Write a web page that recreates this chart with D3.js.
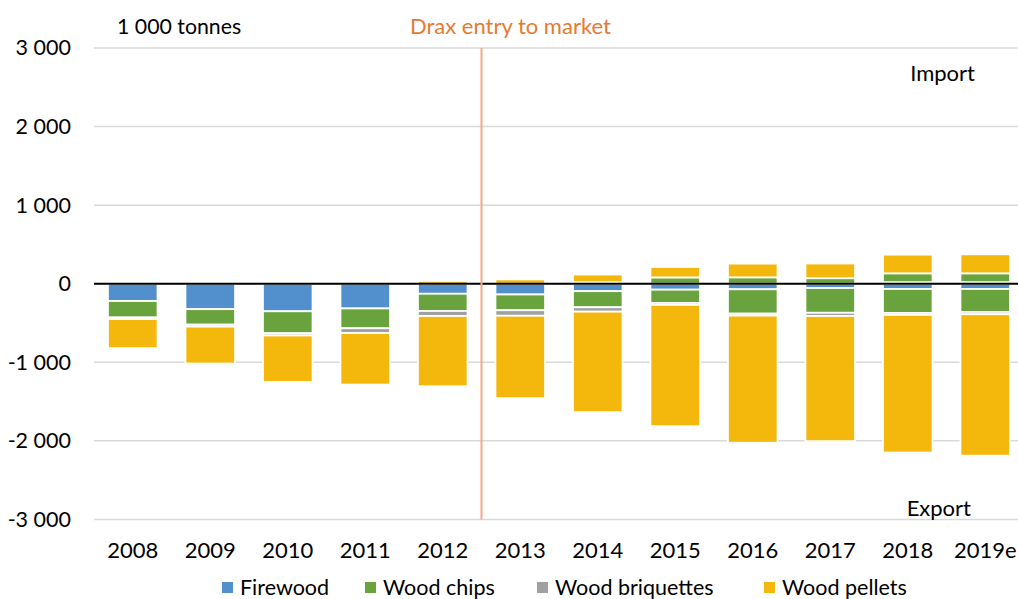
<!DOCTYPE html>
<html><head><meta charset="utf-8">
<script src="https://cdn.jsdelivr.net/npm/d3@7"></script>
<style>
html,body{margin:0;padding:0;background:#fff;overflow:hidden}
text{font-family:Lato,"Open Sans",sans-serif}
</style></head>
<body><svg id="c" width="1018" height="599"></svg>
<script>
const years = ["2008","2009","2010","2011","2012","2013","2014","2015","2016","2017","2018","2019e"];
const products = ["Firewood","Wood chips","Wood briquettes","Wood pellets"];
const colors = ["#5190CC","#68A33E","#A0A0A0","#F4B70C"];
// exports (negative), 1 000 tonnes
const firewoodExp = [-220,-324,-351,-315,-128,-137,-95,-76,-71,-55,-67,-67];
const chipsExp    = [-210,-197,-280,-252,-219,-201,-205,-169,-310,-315,-305,-292];
const briqExp     = [-20,-25,-28,-62,-64,-70,-56,-25,-25,-41,-25,-30];
const pelletsExp  = [-370,-470,-591,-655,-894,-1049,-1279,-1543,-1618,-1593,-1752,-1800];
// imports (positive)
const firewoodImp = [0,0,0,0,0,0,0,0,0,0,20,20];
const chipsImp    = [0,0,0,0,0,0,20,80,81,70,112,112];
const briqImp     = [0,0,0,0,0,0,0,0,0,0,0,0];
const pelletsImp  = [0,0,0,0,35,55,97,133,175,187,238,242];
const yTicks = [-3000,-2000,-1000,0,1000,2000,3000];

const svg = d3.select("#c");
const x = d3.scaleBand().domain(years).range([94,1024]).paddingInner(0.36).paddingOuter(0.18);
const y = d3.scaleLinear().domain([-3000,3000]).range([519.4,48]);
const loc = d3.formatLocale({decimal:",",thousands:" ",grouping:[3],currency:["",""],minus:"-"});
const fmt = loc.format(",d");

// gridlines
svg.append("g").selectAll("line").data(yTicks.filter(d=>d!==0)).join("line")
  .attr("x1",94).attr("x2",1018).attr("y1",d=>y(d)).attr("y2",d=>y(d))
  .attr("stroke","#D9D9D9").attr("stroke-width",1.5);

// y axis labels
const yAxis = d3.axisLeft(y).tickValues(yTicks).tickFormat(fmt).tickSize(0).tickPadding(23);
const gy = svg.append("g").attr("transform","translate(94,0)").call(yAxis);
gy.select(".domain").remove();
gy.selectAll("text").attr("font-size",21.5).attr("fill","#000").attr("font-family","Lato");

function rows(arrs){ return years.map((yr,i)=>{const r={year:yr}; products.forEach((p,k)=>r[p]=arrs[k][i]); return r;}); }
const exp = rows([firewoodExp,chipsExp,briqExp,pelletsExp]);
const imp = rows([firewoodImp,chipsImp,briqImp,pelletsImp]);
const stack = d3.stack().keys(products).offset(d3.stackOffsetDiverging);
const bars = svg.append("g");
[stack(exp), stack(imp)].forEach(series=>{
  series.forEach((s,k)=>{
    bars.append("g").attr("fill",colors[k]).selectAll("rect")
      .data(s.filter(d=>d[1]!==d[0])).join("rect")
      .attr("x",d=>x(d.data.year)).attr("width",x.bandwidth())
      .attr("y",d=>y(Math.max(d[0],d[1]))).attr("height",d=>Math.abs(y(d[0])-y(d[1])))
      .attr("stroke","#fff").attr("stroke-width",1.8);
  });
});

// zero line
svg.append("line").attr("x1",94).attr("x2",1018).attr("y1",y(0)).attr("y2",y(0))
  .attr("stroke","#000").attr("stroke-width",2);

// Drax line
const dx = (x("2012")+x.bandwidth()/2 + x("2013")+x.bandwidth()/2)/2;
svg.append("line").attr("x1",dx).attr("x2",dx).attr("y1",y(3000)).attr("y2",y(-3000))
  .attr("stroke","#F1A984").attr("stroke-width",2);

// x labels
svg.append("g").selectAll("text").data(years).join("text")
  .attr("x",d=>x(d)+x.bandwidth()/2).attr("y",558).attr("text-anchor","middle")
  .attr("font-size",22).attr("fill","#000").text(d=>d);

// annotations
svg.append("text").attr("x",117).attr("y",34).attr("font-size",21.3).attr("fill","#000").text("1 000 tonnes");
svg.append("text").attr("x",410).attr("y",34).attr("font-size",22).attr("fill","#E8792F").text("Drax entry to market");
svg.append("text").attr("x",975).attr("y",81).attr("text-anchor","end").attr("font-size",22).attr("fill","#000").text("Import");
svg.append("text").attr("x",971).attr("y",516).attr("text-anchor","end").attr("font-size",22).attr("fill","#000").text("Export");

// legend
const legX = [222,365,537,764];
const lg = svg.append("g").selectAll("g").data(products).join("g")
  .attr("transform",(d,i)=>`translate(${legX[i]},0)`);
lg.append("rect").attr("x",0).attr("y",582).attr("width",11).attr("height",11).attr("fill",(d,i)=>colors[i]);
lg.append("text").attr("x",18).attr("y",594.5).attr("font-size",21.5).attr("fill","#000").text(d=>d);
</script></body></html>
